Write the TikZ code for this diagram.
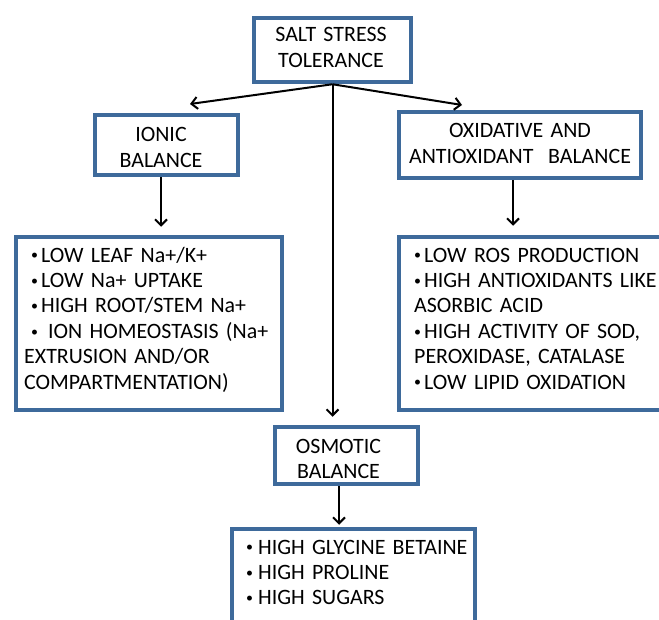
\documentclass[tikz,border=0pt]{standalone}
\usepackage{fontspec}
\setmainfont{Carlito}
\usetikzlibrary{arrows.meta,calc}
\definecolor{boxblue}{RGB}{62,106,155}
% #1 = gap before the bullet, #2 = total width from line start to text
\newcommand\bul[2]{\makebox[#2][l]{\hspace*{#1}\raisebox{2.2bp}{\fontsize{14}{14}\selectfont •}}}
\begin{document}
\begin{tikzpicture}[x=1bp,y=-1bp,
  box/.style={draw=boxblue,line width=4.5bp,fill=white,inner sep=0pt},
  lbl/.style={font=\fontsize{22}{25.5}\selectfont,align=center,inner sep=0pt,text width=#1,anchor=base},
  lst/.style={font=\fontsize{22}{25.5}\selectfont,align=left,inner sep=0pt,text width=270bp,anchor=base west},
  arr/.style={draw=black,line width=2bp,-{Straight Barb[length=6bp,width=12bp,line width=2bp]}}]
\useasboundingbox (0,0) rectangle (659,620);
\clip (0,0) rectangle (659,620);
% boxes
\node[box,minimum width=157bp,minimum height=64bp] (top) at (332.5,50) {};
\node[box,minimum width=143bp,minimum height=60bp] (ionic) at (166.5,145) {};
\node[box,minimum width=242bp,minimum height=66bp] (ox) at (520,145) {};
\node[box,minimum width=266bp,minimum height=173bp] (listL) at (149,323.5) {};
\node[box,minimum width=300bp,minimum height=173bp] (listR) at (549,323.5) {};
\node[box,minimum width=143bp,minimum height=57bp] (osm) at (346.5,455.5) {};
\node[box,minimum width=243bp,minimum height=130bp] (sug) at (353.5,594) {};
% texts
\node[lbl=150bp] (toptext) at (331,42) {SALT STRESS\\TOLERANCE};
\node[lbl=130bp] (ionictext) at (161,142) {IONIC\\BALANCE};
\node[lbl=235bp] (oxtext) at (520,138) {OXIDATIVE AND\\ANTIOXIDANT\ \ BALANCE};
\node[lbl=130bp] (osmtext) at (338.5,453) {OSMOTIC\\BALANCE};
\node[lst] (listLtext) at (24,262) {\bul{7bp}{17bp}LOW LEAF Na+/K+\\\bul{7bp}{17bp}LOW Na+ UPTAKE\\\bul{7bp}{17bp}HIGH ROOT/STEM Na+\\\bul{7bp}{24bp}ION HOMEOSTASIS (Na+\\EXTRUSION AND/OR\\COMPARTMENTATION)};
\node[lst] (listRtext) at (414,262) {\bul{0bp}{10bp}LOW ROS PRODUCTION\\\bul{0bp}{10bp}HIGH ANTIOXIDANTS LIKE\\ASORBIC ACID\\\bul{0bp}{10bp}HIGH ACTIVITY OF SOD,\\PEROXIDASE, CATALASE\\\bul{0bp}{10bp}LOW LIPID OXIDATION};
\node[lst] (sugtext) at (246,554) {\bul{0bp}{12bp}HIGH GLYCINE BETAINE\\\bul{0bp}{12bp}HIGH PROLINE\\\bul{0bp}{12bp}HIGH SUGARS};
% connectors
\coordinate (ionicin) at (190,104);
\coordinate (oxin) at (462,105);
\draw[arr] (top.south) -- (ionicin);
\draw[arr] (top.south) -- (oxin);
\draw[arr,shorten >=8bp] (top.south) -- (top.south |- osm.north);
\draw[arr,shorten >=8bp] (ionictext |- ionic.south) -- (ionictext |- listL.north);
\draw[arr,shorten >=9bp] ($(ox.south)+(-7,0)$) -- ($(ox.south |- listR.north)+(-7,0)$);
\draw[arr,shorten >=2bp] ($(osm.south)+(-7.5,0)$) -- ($(osm.south |- sug.north)+(-7.5,0)$);
\end{tikzpicture}
\end{document}
